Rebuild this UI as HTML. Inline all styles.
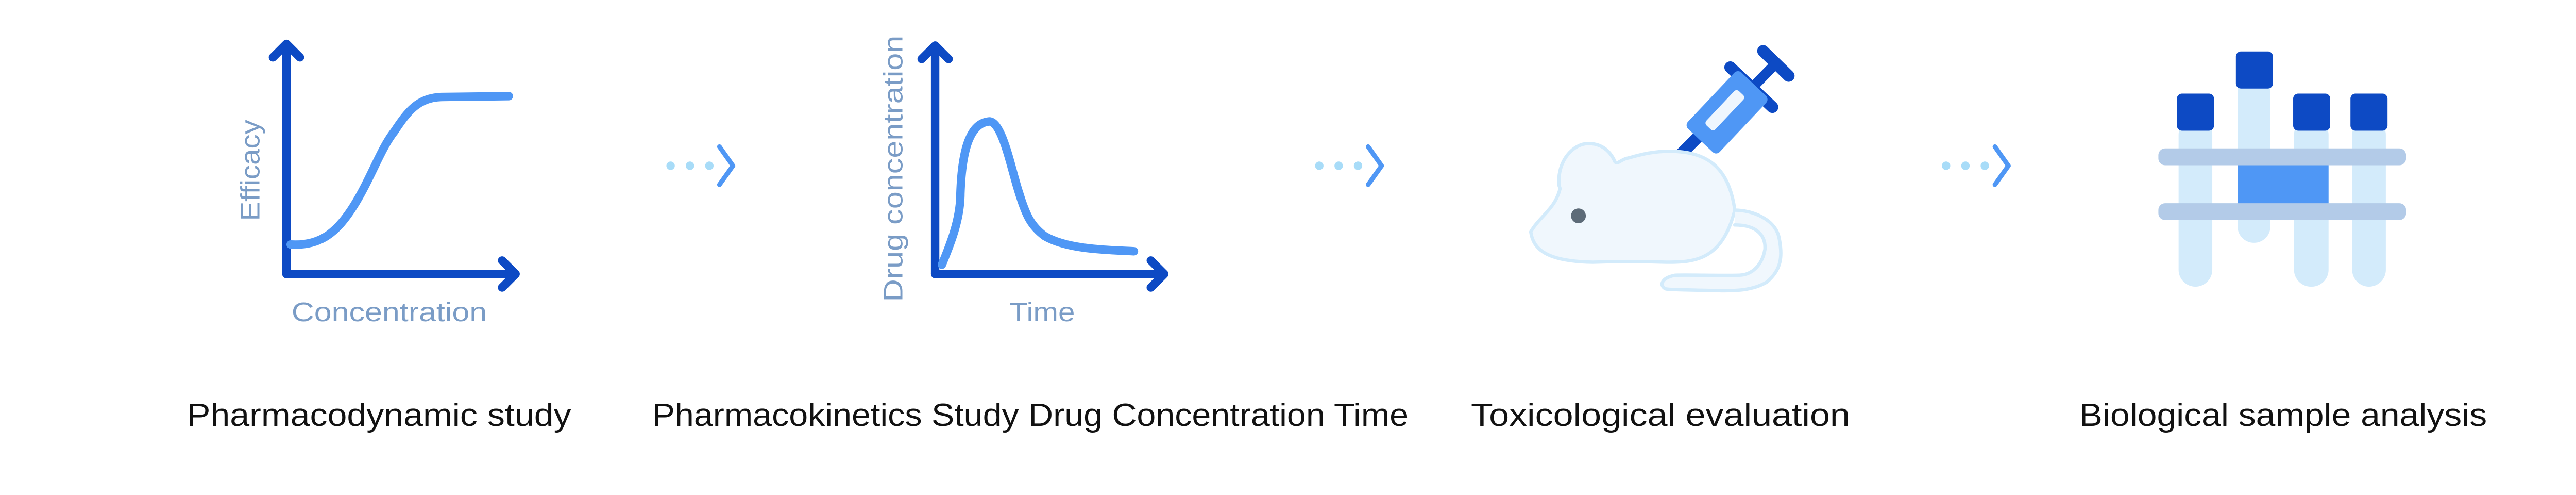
<!DOCTYPE html>
<html><head><meta charset="utf-8"><style>
html,body{margin:0;padding:0;background:#fff;}
svg{display:block;}
text{font-family:"Liberation Sans",sans-serif;}
</style></head><body>
<svg width="5128" height="960" viewBox="0 0 1568 293.55" preserveAspectRatio="none" xmlns="http://www.w3.org/2000/svg">
<rect width="1568" height="293.55" fill="#fff"/>
<g fill="none" stroke-linecap="round" stroke-linejoin="round">
<!-- Panel 1 -->
<path d="M170,162.5 V26 M162,34 L170,26 L178,34" stroke="#0d4ac4" stroke-width="5"/>
<path d="M170,162.5 H306 M298,154.5 L306,162.5 L298,170.5" stroke="#0d4ac4" stroke-width="5"/>
<path d="M172.5,145 C190,146 200,138 210,122 C220,106 226,88 234,78 C242,66 248,58 262,57.5 L302,57" stroke="#4f97f5" stroke-width="5"/>
<!-- Panel 2 -->
<path d="M555,162.5 V27 M547,35 L555,27 L563,35" stroke="#0d4ac4" stroke-width="5"/>
<path d="M555,162.5 H691 M683,154.5 L691,162.5 L683,170.5" stroke="#0d4ac4" stroke-width="5"/>
<path d="M559,157 C564,145 570,130 570,115 C571,85 577,73 587,72 C595,72 600,100 605,115 C609,128 612,134 620,140 C632,147 650,148 673,149" stroke="#4f97f5" stroke-width="5"/>
<!-- arrows -->
<g fill="#a8dcf8" stroke="none">
<circle cx="398" cy="98.3" r="2.5"/><circle cx="409.5" cy="98.3" r="2.5"/><circle cx="421" cy="98.3" r="2.5"/>
<circle cx="783" cy="98.3" r="2.5"/><circle cx="794.5" cy="98.3" r="2.5"/><circle cx="806" cy="98.3" r="2.5"/>
<circle cx="1155" cy="98.3" r="2.5"/><circle cx="1166.5" cy="98.3" r="2.5"/><circle cx="1178" cy="98.3" r="2.5"/>
</g>
<path d="M427,87 L435,98.3 L427,109.5" stroke="#4f97f5" stroke-width="2.8"/>
<path d="M812,87 L820,98.3 L812,109.5" stroke="#4f97f5" stroke-width="2.8"/>
<path d="M1184,87 L1192,98.3 L1184,109.5" stroke="#4f97f5" stroke-width="2.8"/>
<!-- Syringe dark parts -->
<path d="M1046.4,30.2 L1061.6,45" stroke="#0d4ac4" stroke-width="7"/>
<path d="M1054,37.6 L1036,56" stroke="#0d4ac4" stroke-width="6" stroke-linecap="butt"/>
<path d="M1026.9,39.9 L1051.9,63.5" stroke="#0d4ac4" stroke-width="7"/>
<path d="M1010,79 L998,91" stroke="#0d4ac4" stroke-width="7" stroke-linecap="butt"/>
<!-- Mouse -->
<path d="M942.7,85.1 C934,85.1 924,95 925.3,110 L925.9,111.8 C923,124 914,128 908.5,137.5 C910,148 918,155 945.4,155.5 C960,155 975,155 988.9,155.5 C1005,155.5 1022,155 1029.6,124.6 C1026,98 1012,89.7 991,89.7 C978,89.7 970,93 965,94 C961,95.5 960,97.5 958.5,96 C955,88 949,85.1 942.7,85.1 Z" fill="#f0f7fd" stroke="#d3ebfb" stroke-width="2"/>
<path d="M1029.6,124.6 C1040,124.6 1054,130 1056,141.6 C1058,152 1057.3,160 1048.6,167.3 C1040,172.4 1030,172.4 1021.5,172.4 C1010,172 993,172 988.9,171.4 C985,170 985,165 994.3,163.2 C1005,163 1020,163.5 1032.3,163.2 C1040,163 1046,157 1047.5,147.8 C1048,140 1043,133.4 1029.6,133.4" fill="#f0f7fd" stroke="#d3ebfb" stroke-width="2"/>
<ellipse cx="936.8" cy="128" rx="4.4" ry="4.4" fill="#5d6b78" stroke="none"/>
<!-- Syringe barrel -->
<g transform="translate(1025,66.6) rotate(-46.6)">
<rect x="-23" y="-13" width="46" height="26" rx="3" fill="#4f97f5" stroke="none"/>
<rect x="-14" y="-5.5" width="28" height="7.4" rx="2" fill="#eef6fe" stroke="none"/>
</g>
<!-- Tubes -->
<g stroke="none">
<rect x="1293" y="70" width="20" height="100" rx="10" fill="#d3ebfb"/>
<rect x="1328" y="45" width="19.5" height="99" rx="9.75" fill="#d3ebfb"/>
<rect x="1361.5" y="70" width="20.5" height="100" rx="10" fill="#d3ebfb"/>
<rect x="1396" y="70" width="20" height="100" rx="10" fill="#d3ebfb"/>
<rect x="1328" y="97" width="54" height="25" fill="#4f97f5"/>
<rect x="1281" y="88" width="147" height="10" rx="4" fill="#b3cbe8"/>
<rect x="1281" y="120.5" width="147" height="10" rx="4" fill="#b3cbe8"/>
<rect x="1292" y="55.5" width="22" height="22" rx="3" fill="#0d4ac4"/>
<rect x="1327" y="30.5" width="22" height="22" rx="3" fill="#0d4ac4"/>
<rect x="1361" y="55.5" width="22" height="22" rx="3" fill="#0d4ac4"/>
<rect x="1395" y="55.5" width="22" height="22" rx="3" fill="#0d4ac4"/>
</g>
</g>
<!-- axis labels -->
<g fill="#7a9cc6" font-size="16">
<text transform="translate(154,131) rotate(-90)" textLength="60" lengthAdjust="spacingAndGlyphs">Efficacy</text>
<text x="173" y="190.5" textLength="116" lengthAdjust="spacingAndGlyphs">Concentration</text>
<text transform="translate(535.5,179) rotate(-90)" textLength="158" lengthAdjust="spacingAndGlyphs">Drug concentration</text>
<text x="599" y="190.5" textLength="39" lengthAdjust="spacingAndGlyphs">Time</text>
</g>
<!-- main labels -->
<g fill="#111" font-size="19">
<text x="111" y="252.5" textLength="228" lengthAdjust="spacingAndGlyphs">Pharmacodynamic study</text>
<text x="387" y="252.5" textLength="449" lengthAdjust="spacingAndGlyphs">Pharmacokinetics Study Drug Concentration Time</text>
<text x="873" y="252.5" textLength="225" lengthAdjust="spacingAndGlyphs">Toxicological evaluation</text>
<text x="1234" y="252.5" textLength="242" lengthAdjust="spacingAndGlyphs">Biological sample analysis</text>
</g>
</svg>
</body></html>
